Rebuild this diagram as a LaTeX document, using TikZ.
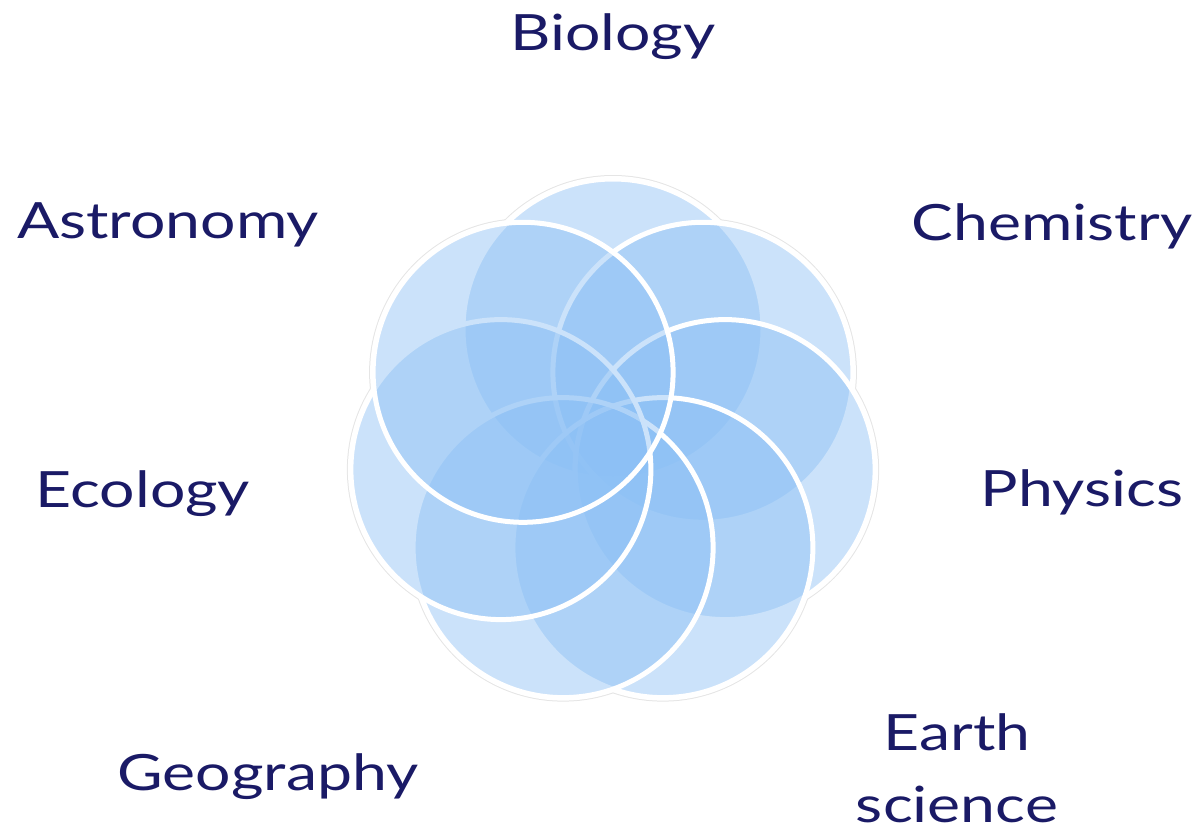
\documentclass[tikz,border=0pt]{standalone}
\usepackage{fontspec}
\setmainfont{Lato}[FakeStretch=1.25]
\usetikzlibrary{calc}
\definecolor{petalblue}{RGB}{140,192,245}
\definecolor{inkblue}{RGB}{26,26,102}
\tikzset{
	petal/.style={fill=petalblue, fill opacity=0.45, draw=white, line width=2.5pt},
	subject/.style={text=inkblue, font=\fontsize{25}{36}\selectfont, align=center, anchor=base}
}

\begin{document}
\begin{tikzpicture}[x=0.5pt,y=-0.5pt]
	\useasboundingbox (0,0) rectangle (1200,832);
	
	% centres of the seven circles, clockwise from the top
	\coordinate (mid) at (613,444);
	\foreach \i in {0,...,6}
	\coordinate (c\i) at ($(mid)+(-90+\i*360/7:115)$);
	
	% faint grey rim round the whole flower
	\foreach \i in {0,...,6} \fill[gray!20] (c\i) circle (154);
	\foreach \i in {0,...,6} \fill[white] (c\i) circle (153);
	
	% the petals
	\foreach \i in {0,...,6} \draw[petal] (c\i) circle (150);
	
	% subjects
	\node[subject] (biology) at (613,50) {Biology};
	\node[subject] (chemistry) at (1052,240) {Chemistry};
	\node[subject] (physics) at (1082,506) {Physics};
	\node[subject] (earth) at (957,822) {Earth\\science};
	\node[subject] (geography) at (268,790) {Geography};
	\node[subject] (ecology) at (143,507) {Ecology};
	\node[subject] (astronomy) at (168,238) {Astronomy};
	
\end{tikzpicture}
\end{document}
